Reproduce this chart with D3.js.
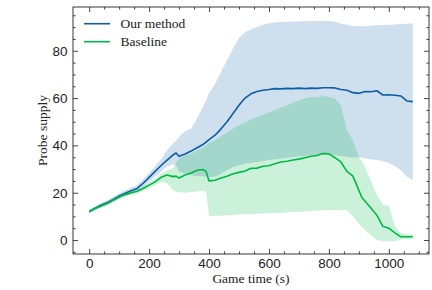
<!DOCTYPE html>
<html>
<head>
<meta charset="utf-8">
<script src="https://cdn.jsdelivr.net/npm/d3@7"></script>
<style>
  body { margin: 0; background: #fff; }
  svg { display: block; font-family: "Liberation Serif", "DejaVu Serif", serif; }
</style>
</head>
<body>
<svg id="chart"></svg>
<script>
// game time (s), shared by every series
var time = [0,20,40,60,80,100,120,140,160,180,200,220,240,260,280,290,300,320,340,360,380,390,400,
  420,440,460,480,500,520,540,560,580,600,620,640,660,680,700,720,740,760,780,800,820,840,860,880,
  900,910,920,940,960,980,1000,1020,1040,1060,1080]

// "Our method": mean and band
var ourMean = [12,13.5,14.8,15.8,17.2,18.6,19.8,20.8,21.8,24,26.5,29,31.5,33.8,36,36.8,35.4,36.4,37.6,39,40.4,41.4,42.4,
  44.3,47,50,53.5,57,60,61.8,62.8,63.3,63.6,64,63.9,64.1,64,64.2,64,64.2,64.1,64.4,64.4,64.3,63.6,63.3,62.3,
  62,62.4,62.8,62.7,63.1,61.3,61.4,61.2,60.9,58.8,58.5]
var ourHigh = [12.8,14.3,15.7,16.8,18.2,19.7,21,22.2,23.2,25.6,28.4,31.2,34.2,38,40.8,42,43.7,46,47,51.5,56.3,59,62,
  66,71,76,81,85.5,87.8,89,90,91,91.6,92,92.2,92.3,92.3,92.4,92.6,92.5,92.6,92.7,92.6,92.4,91.4,91,90.5,
  90.4,90.3,90.4,90.6,90.8,90.9,91,91.1,91.3,91.4,91.6]
var ourLow = [11.2,12.7,13.9,14.8,16.2,17.5,18.6,19.4,20.4,22.4,24.6,26.8,29,31,32,31.5,29,28,27.5,27,27,26.8,26.6,
  26.8,28,29.5,30.8,31.6,32.2,32.6,33,33.4,33.8,34.1,34.4,34.8,35.1,35.3,35.6,35.8,35.9,36,36,35.8,35.5,35.2,34.8,
  35,34.8,34.6,34.2,33.8,33.4,32.6,31.3,29.5,26.8,25.4]

// "Baseline": mean and band
var baseMean = [12,13.3,14.4,15.4,16.8,18.2,19.2,20,20.6,21.8,23.2,24.6,26.5,27.5,26.8,27,26.2,27.5,28.3,29.5,29.8,29,25,
  25.3,26.2,27,28,28.6,29.2,30.3,30.4,31.2,31.4,32.2,33,33.3,33.8,34.2,34.8,35.4,35.7,36.6,36.4,34.8,33,29,27,
  21,18,16.5,13.5,10.5,5.8,5,3,1.4,1.4,1.4]
var baseHigh = [12.6,13.9,15,16,17.5,18.9,19.9,20.8,21.5,22.8,24.3,25.8,28,29.5,30.5,32.5,34.5,35.8,36.5,37.8,39,40,41,
  42.3,44,45.5,47,48.5,49.8,51,52,53,54,55,56,57,58,59,59.8,60.5,60.2,61,60.5,59.8,57,46.5,42.3,
  35,33.5,31,25,19,15,14.5,6,2.8,2.6,2.5]
var baseLow = [11.4,12.7,13.8,14.8,16.1,17.5,18.5,19.2,19.7,20.8,22,23.2,24.5,24,21,20.5,20.2,20,20.3,20.5,20.8,20.5,10.2,
  10.3,10.3,10.5,10.6,10.8,11,11,11.1,11.2,11.3,11.4,11.4,11.6,11.8,12,12.1,12.3,12.5,12.6,12.7,12.7,12.7,12.7,10,
  7,5.5,4.2,2,0,-0.6,-0.5,-0.5,0.2,0.3,0.3]

var seriesNames = ["Our method", "Baseline"]
var seriesColors = ["#0C5DA5", "#00B945"]

var xMajor = [0, 200, 400, 600, 800, 1000]
var yMajor = [0, 20, 40, 60, 80]

var width = 432
var height = 290
var plot = {left: 73, right: 429, top: 7, bottom: 254}

var svg = d3.select("#chart").attr("width", width).attr("height", height)

var xScale = d3.scaleLinear().domain([-54, 1134]).range([plot.left, plot.right])
var yScale = d3.scaleLinear().domain([-5.9, 98.5]).range([plot.bottom, plot.top])

function rows(mean, low, high) {
  return time.map((t, i) => ({t: t, mean: mean[i], low: low[i], high: high[i]}))
}

var series = [
  rows(ourMean, ourLow, ourHigh),
  rows(baseMean, baseLow, baseHigh)
]

var area = d3.area()
  .x(d => xScale(d.t))
  .y0(d => yScale(d.low))
  .y1(d => yScale(d.high))

var line = d3.line()
  .x(d => xScale(d.t))
  .y(d => yScale(d.mean))

var body = svg.append("g")

series.forEach((data, i) => {
  body.append("path")
    .attr("d", area(data))
    .attr("fill", seriesColors[i])
    .attr("fill-opacity", 0.2)
  body.append("path")
    .attr("d", line(data))
    .attr("fill", "none")
    .attr("stroke", seriesColors[i])
    .attr("stroke-width", 1.6)
    .attr("stroke-linejoin", "round")
})

// minor ticks every 50 s / 5 units, majors from the lists
var xMinor = d3.range(0, 1134, 50).filter(v => !xMajor.includes(v))
var yMinor = d3.range(-5, 98.5, 5).filter(v => !yMajor.includes(v))

function styleAxis(g) {
  g.select(".domain").remove()
  g.selectAll("line").attr("stroke", "#222").attr("stroke-width", 0.85)
  g.selectAll("text").attr("fill", "#222").style("font-size", "13.5px").attr("font-family", null)
}

// bottom + top
svg.append("g").attr("transform", `translate(0,${plot.bottom})`)
  .call(d3.axisBottom(xScale).tickValues(xMajor).tickFormat(d3.format("d")).tickSizeInner(-5).tickSizeOuter(0).tickPadding(4))
  .call(styleAxis)
svg.append("g").attr("transform", `translate(0,${plot.bottom})`)
  .call(d3.axisBottom(xScale).tickValues(xMinor).tickFormat("").tickSizeInner(-2.6).tickSizeOuter(0))
  .call(styleAxis)
svg.append("g").attr("transform", `translate(0,${plot.top})`)
  .call(d3.axisTop(xScale).tickValues(xMajor).tickFormat("").tickSizeInner(-5).tickSizeOuter(0))
  .call(styleAxis)
svg.append("g").attr("transform", `translate(0,${plot.top})`)
  .call(d3.axisTop(xScale).tickValues(xMinor).tickFormat("").tickSizeInner(-2.6).tickSizeOuter(0))
  .call(styleAxis)

// left + right
svg.append("g").attr("transform", `translate(${plot.left},0)`)
  .call(d3.axisLeft(yScale).tickValues(yMajor).tickFormat(d3.format("d")).tickSizeInner(-5).tickSizeOuter(0).tickPadding(5.5))
  .call(styleAxis)
svg.append("g").attr("transform", `translate(${plot.left},0)`)
  .call(d3.axisLeft(yScale).tickValues(yMinor).tickFormat("").tickSizeInner(-2.6).tickSizeOuter(0))
  .call(styleAxis)
svg.append("g").attr("transform", `translate(${plot.right},0)`)
  .call(d3.axisRight(yScale).tickValues(yMajor).tickFormat("").tickSizeInner(-5).tickSizeOuter(0))
  .call(styleAxis)
svg.append("g").attr("transform", `translate(${plot.right},0)`)
  .call(d3.axisRight(yScale).tickValues(yMinor).tickFormat("").tickSizeInner(-2.6).tickSizeOuter(0))
  .call(styleAxis)

// frame
svg.append("rect")
  .attr("x", plot.left).attr("y", plot.top)
  .attr("width", plot.right - plot.left).attr("height", plot.bottom - plot.top)
  .attr("fill", "none").attr("stroke", "#222").attr("stroke-width", 0.9)

// axis titles
svg.append("text")
  .attr("x", (plot.left + plot.right) / 2).attr("y", 283)
  .attr("text-anchor", "middle").style("font-size", "13.5px").attr("fill", "#222")
  .text("Game time (s)")
svg.append("text")
  .attr("transform", `translate(47,${(plot.top + plot.bottom) / 2}) rotate(-90)`)
  .attr("text-anchor", "middle").style("font-size", "13.5px").attr("fill", "#222")
  .text("Probe supply")

// legend
var legend = svg.append("g")
seriesNames.forEach((name, i) => {
  var ly = 23.7 + i * 18
  legend.append("line")
    .attr("x1", 84).attr("x2", 110).attr("y1", ly).attr("y2", ly)
    .attr("stroke", seriesColors[i]).attr("stroke-width", 1.6)
  legend.append("text")
    .attr("x", 120.5).attr("y", ly + 4.5)
    .style("font-size", "13.5px").attr("fill", "#222")
    .text(name)
})
</script>
</body>
</html>
